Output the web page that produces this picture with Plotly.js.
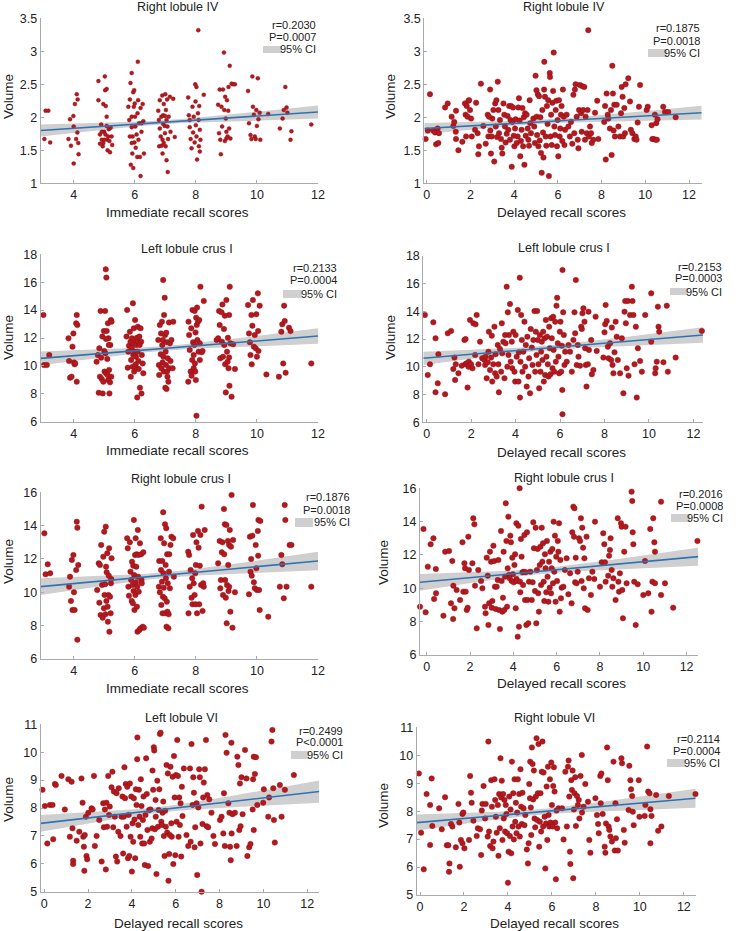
<!DOCTYPE html>
<html><head><meta charset="utf-8">
<script src="https://cdn.plot.ly/plotly-3.0.1.min.js"></script>
<style>html,body{margin:0;padding:0;background:#fff}#chart{width:736px;height:931px}</style>
</head><body><div id="chart"></div>
<script>
// ---------- DATA ----------
const titles = ["Right lobule IV","Right lobule IV","Left lobule crus I","Left lobule crus I","Right lobule crus I","Right lobule crus I","Left lobule VI","Right lobule VI"];
const xTitles = ["Immediate recall scores","Delayed recall scores","Immediate recall scores","Delayed recall scores","Immediate recall scores","Delayed recall scores","Delayed recall scores","Delayed recall scores"];
const rTexts = ["r=0.2030","r=0.1875","r=0.2133","r=0.2153","r=0.1876","r=0.2016","r=0.2499","r=0.2114"];
const pTexts = ["P=0.0007","P=0.0018","P=0.0004","P=0.0003","P=0.0018","P=0.0008","P<0.0001","P=0.0004"];
// fitted line values at left / right axis ends
const fitLeft  = [1.80, 1.83, 10.54, 10.61, 10.34, 10.36, 7.45, 7.59];
const fitRight = [2.08, 2.07, 12.14, 12.29, 11.88, 11.90, 8.59, 8.46];
// 95% CI half-width at left end, at narrowest point, at right end
const ciHalf = [[0.09,0.03,0.10],[0.085,0.03,0.105],[0.5,0.17,0.56],[0.48,0.17,0.56],[0.5,0.17,0.55],[0.5,0.17,0.54],[0.3,0.1,0.4],[0.29,0.1,0.34]];
const ciCenter = [7, 5.3, 7, 5.3, 7, 5.3, 5.3, 5.3];

const rightIV_imm = [[2.9,1.50],[3.04,1.67],[3.08,2.10],[3.17,2.10],[3.23,1.62],
[3.83,1.67],[3.88,1.97],[3.91,1.57],[3.99,2.02],[4.0,1.30],[4.04,2.20],[4.0,1.86],[4.08,1.67],[4.1,2.35],[4.13,2.27],[4.12,1.77],[4.15,1.61],[4.16,1.44],
[4.81,2.55],[4.81,2.26],[4.86,1.74],[4.86,1.60],[4.9,1.89],[4.92,1.66],[4.95,1.56],[4.97,2.20],[5.0,1.66],[5.0,1.78],[5.02,2.62],[5.03,2.41],[5.05,2.17],[5.08,2.01],[5.08,2.43],[5.08,1.87],[5.1,1.66],[5.11,1.50],[5.13,1.71],[5.15,1.82],[5.17,1.64],[5.19,1.47],[5.21,1.84],[5.24,1.71],[5.26,1.58],[5.04,1.74],[4.92,1.78],[4.97,1.61],
[5.79,2.16],[5.84,2.27],[5.86,2.52],[5.87,1.28],[5.9,2.67],[5.9,2.01],[5.9,1.85],[5.92,1.45],[5.93,1.71],[5.95,1.23],[5.95,2.38],[5.97,2.16],[5.98,2.41],[5.99,1.62],[6.0,2.21],[6.01,2.01],[6.02,1.86],[6.03,1.54],[6.06,1.74],[6.08,1.40],[6.09,2.06],[6.1,2.84],[6.11,2.26],[6.12,1.66],[6.14,1.91],[6.17,1.40],[6.19,1.11],[6.19,2.14],[6.22,1.78],[6.26,2.20],[6.28,1.94],[6.3,1.45],[5.84,1.71],[5.82,1.96],[5.9,1.61],[6.22,1.91],
[6.77,2.10],[6.79,1.96],[6.8,1.56],[6.82,2.26],[6.82,1.83],[6.85,1.71],[6.87,2.01],[6.88,1.57],[6.9,2.33],[6.91,1.66],[6.93,2.03],[6.93,1.90],[6.95,2.20],[6.95,1.61],[6.98,1.87],[6.99,2.02],[6.99,1.76],[7.0,2.35],[7.01,1.56],[7.02,2.11],[7.04,1.35],[7.04,1.96],[7.06,2.27],[7.07,1.86],[7.08,1.17],[7.09,1.67],[7.11,2.01],[7.15,2.31],[7.17,1.78],[7.26,2.28],[7.31,1.70],[6.91,1.45],
[7.75,2.30],[7.77,2.03],[7.8,1.85],[7.83,1.67],[7.86,1.53],[7.89,2.16],[7.91,1.77],[7.93,2.01],[7.96,1.62],[7.98,2.50],[7.99,2.24],[8.0,1.88],[8.02,2.46],[8.02,1.71],[8.04,1.36],[8.07,2.06],[8.08,3.32],[8.09,1.96],[8.1,1.56],[8.11,2.17],[8.13,1.81],[8.15,1.66],[8.26,2.34],[7.8,1.96],[8.13,1.48],
[8.73,2.19],[8.76,1.76],[8.78,2.42],[8.8,1.66],[8.82,1.44],[8.84,2.16],[8.86,1.86],[8.89,2.42],[8.92,2.98],[8.93,2.11],[8.95,1.64],[8.96,2.31],[8.98,1.98],[9.0,1.78],[9.02,2.26],[9.04,1.71],[9.06,2.10],[9.07,2.46],[9.09,1.83],[9.11,2.78],[9.13,1.68],[9.17,2.51],[9.22,2.50],[9.28,2.50],[9.0,1.68],
[9.71,2.40],[9.74,1.91],[9.79,1.73],[9.82,1.67],[9.85,2.62],[9.87,2.16],[9.9,2.04],[9.93,1.71],[9.96,1.67],[9.98,2.11],[10.0,1.87],[10.03,2.59],[10.05,1.97],[10.09,2.07],[10.11,1.66],[10.37,2.05],
[10.75,1.83],[10.84,1.98],[10.88,2.11],[10.93,2.46],[10.97,2.15],[11.0,2.07],[11.1,1.66],[11.13,1.79],
[11.78,1.89],[12.05,1.68]];

const rightIV_del = [[-0.23,1.50],[-0.15,1.30],[-0.05,1.67],[0.05,1.80],[0.15,2.35],[0.3,1.80],[0.38,1.77],[0.43,1.59],[0.5,1.83],[0.53,1.61],[0.56,1.76],[0.84,2.15],[0.96,2.21],[1.14,2.01],[1.22,1.87],[1.26,1.93],[1.33,1.78],[1.34,2.10],[1.34,1.67],[1.45,1.50],[1.63,1.63],[1.75,2.21],[1.78,2.04],[1.8,1.71],[1.83,2.17],[1.87,2.01],[1.91,2.25],[1.94,2.26],[1.98,2.11],[2.03,1.98],[2.06,1.71],[2.21,1.81],[2.26,2.22],[2.33,1.76],[2.36,1.44],[2.39,1.56],[2.48,2.51],[2.59,1.87],[2.7,1.60],[2.79,2.04],[2.82,1.71],[2.85,2.01],[2.9,2.42],[2.91,1.80],[2.94,1.45],[2.97,1.71],[3.0,1.98],[3.05,2.11],[3.09,1.33],[3.13,2.21],[3.16,1.86],[3.19,2.26],[3.22,1.70],[3.25,2.54],[3.28,2.11],[3.31,1.76],[3.35,1.96],[3.4,1.67],[3.43,1.54],[3.46,1.45],[3.51,2.21],[3.55,2.04],[3.58,1.86],[3.61,1.62],[3.66,1.75],[3.7,2.02],[3.73,1.81],[3.77,2.17],[3.81,1.66],[3.83,1.96],[3.86,2.17],[3.89,1.25],[3.92,1.93],[3.95,2.15],[3.98,1.72],[4.01,1.56],[4.04,1.83],[4.07,1.97],[4.12,1.61],[4.16,1.71],[4.19,2.15],[4.22,2.29],[4.25,1.95],[4.28,1.41],[4.31,1.64],[4.34,1.81],[4.38,2.14],[4.41,1.56],[4.44,2.0],[4.47,1.28],[4.5,2.06],[4.53,1.72],[4.57,2.04],[4.62,1.83],[4.65,1.66],[4.68,1.57],[4.71,2.26],[4.74,1.91],[4.77,1.76],[4.88,1.98],[4.92,1.86],[4.95,1.61],[4.98,2.63],[5.02,2.41],[5.03,2.01],[5.05,1.73],[5.08,2.35],[5.11,1.56],[5.14,2.32],[5.17,1.65],[5.2,2.0],[5.23,1.46],[5.26,1.16],[5.29,2.11],[5.32,1.77],[5.34,1.39],[5.37,2.42],[5.38,2.84],[5.41,2.31],[5.44,1.71],[5.47,1.57],[5.5,2.17],[5.53,1.90],[5.56,2.26],[5.59,1.11],[5.63,2.67],[5.64,2.61],[5.66,1.71],[5.69,2.04],[5.72,1.58],[5.75,2.22],[5.78,2.40],[5.81,2.98],[5.84,1.86],[5.87,1.73],[5.9,2.11],[5.93,2.25],[5.96,1.56],[5.99,1.96],[6.02,1.41],[6.05,2.26],[6.08,1.71],[6.11,1.83],[6.14,2.04],[6.17,2.17],[6.2,1.64],[6.23,2.42],[6.27,2.01],[6.3,1.58],[6.33,1.81],[6.4,2.04],[6.48,1.86],[6.55,1.71],[6.6,1.93],[6.66,1.60],[6.71,2.34],[6.75,1.76],[6.78,2.42],[6.81,2.50],[6.86,2.01],[6.91,1.66],[6.94,1.53],[6.97,2.11],[7.01,2.49],[7.06,2.06],[7.09,1.78],[7.12,2.47],[7.16,2.11],[7.21,2.46],[7.24,1.66],[7.27,2.01],[7.32,1.76],[7.36,2.11],[7.39,3.32],[7.42,1.71],[7.47,1.86],[7.52,1.76],[7.55,1.61],[7.62,1.66],[7.7,2.07],[7.8,2.25],[7.85,1.67],[8.12,1.93],[8.16,2.17],[8.19,1.36],[8.23,2.36],[8.28,2.04],[8.31,1.98],[8.38,1.83],[8.43,2.11],[8.46,1.43],[8.49,2.78],[8.52,2.36],[8.55,1.80],[8.58,2.19],[8.61,1.71],[8.69,2.19],[8.77,1.86],[8.84,1.71],[8.89,2.06],[8.92,2.46],[8.96,2.31],[8.99,1.71],[9.04,2.14],[9.07,1.76],[9.1,2.50],[9.22,2.59],[9.3,2.24],[9.34,1.81],[9.41,1.76],[9.5,1.67],[9.56,1.71],[9.6,1.66],[9.65,1.92],[9.71,2.16],[9.76,2.49],[10.06,2.11],[10.11,2.16],[10.29,1.88],[10.32,1.67],[10.38,1.67],[10.44,2.04],[10.47,1.66],[10.5,1.91],[10.53,1.66],[10.56,1.97],[10.82,2.16],[10.9,2.08],[11.05,2.08],[11.39,2.0],[12.6,1.80]];

const leftCrus_imm = [[2.88,9.47],[3.01,13.65],[3.03,10.06],[3.12,10.06],[3.2,10.78],
[3.83,11.98],[3.85,10.35],[3.88,9.15],[3.93,9.23],[3.96,11.38],[3.99,12.33],[4.01,10.25],[4.03,10.11],[4.05,10.18],[4.08,13.05],[4.1,13.65],[4.12,12.93],[4.1,8.87],
[4.75,10.3],[4.79,10.78],[4.82,8.08],[4.84,11.26],[4.86,9.23],[4.88,13.94],[4.9,10.59],[4.92,9.06],[4.94,12.1],[4.95,8.03],[4.97,8.87],[4.99,12.5],[5.0,11.07],[5.01,9.59],[5.03,13.94],[5.04,10.9],[5.05,16.92],[5.06,9.47],[5.07,16.33],[5.08,12.5],[5.1,10.49],[5.11,9.35],[5.12,13.05],[5.13,8.99],[5.14,11.98],[5.16,9.71],[5.17,8.03],[5.19,8.82],[5.2,11.5],[5.22,13.29],[5.24,13.17],[5.23,9.23],[5.15,11.5],[5.06,11.93],
[5.73,12.1],[5.75,14.01],[5.77,9.87],[5.79,11.02],[5.81,11.45],[5.84,12.45],[5.86,11.74],[5.87,9.23],[5.88,10.42],[5.9,11.31],[5.91,11.98],[5.93,9.94],[5.94,14.49],[5.95,10.78],[5.96,11.62],[5.97,12.69],[5.98,9.59],[5.99,11.02],[6.01,13.29],[6.02,11.86],[6.03,10.11],[6.04,10.66],[6.05,11.5],[6.06,9.83],[6.07,12.02],[6.08,7.74],[6.09,11.02],[6.1,12.81],[6.11,11.74],[6.12,10.35],[6.13,9.78],[6.15,12.1],[6.16,11.5],[6.17,8.44],[6.19,12.69],[6.21,11.74],[6.22,8.03],[6.26,10.18],[6.28,9.47],[6.23,10.78],
[6.77,11.86],[6.79,10.06],[6.8,9.35],[6.82,12.93],[6.85,10.83],[6.86,12.33],[6.87,9.83],[6.89,13.17],[6.9,11.5],[6.91,10.25],[6.92,11.86],[6.93,16.16],[6.94,10.66],[6.95,9.59],[6.96,13.65],[6.98,14.89],[6.99,12.21],[7.0,8.44],[7.01,11.02],[7.02,10.06],[7.03,12.38],[7.04,8.34],[7.05,11.69],[7.06,9.59],[7.07,9.23],[7.08,10.54],[7.1,8.87],[7.12,13.12],[7.13,9.83],[7.15,11.62],[7.17,10.35],[7.2,11.86],[7.26,13.17],[7.24,9.83],
[7.75,8.87],[7.76,13.17],[7.78,12.21],[7.8,11.14],[7.83,9.59],[7.85,12.69],[7.86,9.3],[7.88,10.42],[7.89,14.01],[7.91,11.69],[7.93,9.83],[7.93,10.78],[7.95,11.5],[7.96,13.94],[7.97,10.18],[7.98,9.59],[7.99,12.4],[8.0,8.99],[8.01,13.46],[8.02,6.43],[8.03,12.93],[8.04,14.18],[8.05,11.86],[8.07,13.17],[8.09,11.02],[8.11,13.29],[8.13,11.62],[8.15,15.68],[8.19,10.97],[8.22,11.07],[8.26,14.65],[8.13,10.42],
[8.68,11.86],[8.73,11.98],[8.76,13.94],[8.78,12.93],[8.8,10.54],[8.84,13.84],[8.85,11.74],[8.87,14.41],[8.89,10.66],[8.92,12.64],[8.93,11.5],[8.95,13.6],[8.96,10.11],[8.98,8.1],[9.0,14.72],[9.02,11.02],[9.04,10.3],[9.05,12.02],[9.07,9.83],[9.09,13.65],[9.1,8.58],[9.11,15.68],[9.13,11.62],[9.17,7.79],[9.22,11.55],[9.28,9.78],[9.09,10.61],
[9.71,14.37],[9.74,12.33],[9.77,11.69],[9.79,10.78],[9.82,13.65],[9.83,10.11],[9.85,12.88],[9.87,14.72],[9.9,11.38],[9.93,12.21],[9.96,11.26],[9.98,13.7],[10.0,10.66],[10.03,15.2],[10.05,11.07],[10.09,14.32],[10.04,12.5],[10.31,9.39],
[10.72,9.23],[10.8,12.45],[10.83,12.98],[10.86,10.18],[10.89,14.32],[10.91,13.22],[10.94,9.51],[11.05,12.74],[11.1,12.5],
[11.78,10.18],[12.05,9.83]];

const leftCrus_del = [[-0.2,12.17],[-0.2,9.36],[-0.08,13.73],[0.05,9.41],[0.15,10.18],[0.3,13.2],[0.4,12.05],[0.4,8.16],[0.5,8.81],[0.53,10.9],[0.83,8.02],[0.95,12.41],[1.1,12.58],[1.2,9.84],[1.25,10.66],[1.28,9.05],[1.31,10.18],[1.43,9.53],[1.58,10.08],[1.7,11.93],[1.73,10.18],[1.75,12.0],[1.8,10.25],[1.84,8.5],[1.88,10.01],[1.9,10.37],[1.95,13.37],[2.0,10.18],[2.06,9.89],[2.1,13.13],[2.18,10.85],[2.2,13.06],[2.25,13.73],[2.33,10.18],[2.4,11.81],[2.5,10.61],[2.6,10.49],[2.63,10.13],[2.65,10.73],[2.7,9.17],[2.75,10.32],[2.78,11.09],[2.8,12.53],[2.85,9.77],[2.9,10.66],[2.93,12.24],[2.95,8.93],[3.0,10.18],[3.05,12.89],[3.08,9.53],[3.1,10.9],[3.15,9.29],[3.2,11.57],[3.23,10.18],[3.25,8.16],[3.3,11.28],[3.35,9.65],[3.38,13.13],[3.4,10.97],[3.45,11.81],[3.5,9.17],[3.53,12.29],[3.55,11.69],[3.6,15.77],[3.63,10.01],[3.65,13.92],[3.68,10.85],[3.7,12.29],[3.75,14.52],[3.78,10.37],[3.83,11.81],[3.85,9.89],[3.9,12.53],[3.95,9.65],[3.98,8.93],[4.0,12.29],[4.05,10.73],[4.1,14.09],[4.13,8.93],[4.15,11.04],[4.19,16.42],[4.2,7.78],[4.22,10.37],[4.25,13.73],[4.28,11.93],[4.31,9.65],[4.35,11.09],[4.4,13.25],[4.43,10.01],[4.46,11.57],[4.5,8.57],[4.53,12.17],[4.58,9.29],[4.61,10.61],[4.65,8.09],[4.68,12.72],[4.73,11.38],[4.76,10.13],[4.8,11.93],[4.85,14.01],[4.88,9.65],[4.91,12.53],[4.94,10.85],[4.97,14.01],[5.0,11.93],[5.03,10.18],[5.06,8.45],[5.09,12.29],[5.12,9.65],[5.15,11.09],[5.18,11.81],[5.21,10.49],[5.24,12.53],[5.27,8.93],[5.3,12.05],[5.33,9.41],[5.36,13.37],[5.39,10.73],[5.42,12.17],[5.45,10.18],[5.48,9.29],[5.51,12.89],[5.54,11.33],[5.57,9.46],[5.6,13.49],[5.63,12.05],[5.66,9.89],[5.69,13.61],[5.71,11.21],[5.74,9.65],[5.78,13.25],[5.81,10.37],[5.84,14.4],[5.87,14.97],[5.9,11.69],[5.93,10.73],[5.96,9.53],[5.99,12.53],[6.02,13.25],[6.05,9.65],[6.08,11.52],[6.1,8.33],[6.11,16.97],[6.11,6.58],[6.14,13.92],[6.17,12.29],[6.2,10.13],[6.23,11.09],[6.3,10.37],[6.38,11.57],[6.45,11.09],[6.53,9.65],[6.6,11.93],[6.65,13.92],[6.68,12.41],[6.71,16.25],[6.75,10.13],[6.8,11.57],[6.83,10.73],[6.9,10.08],[6.95,12.89],[6.98,12.72],[7.01,13.85],[7.05,14.21],[7.1,13.25],[7.13,11.33],[7.16,10.13],[7.19,8.57],[7.25,10.18],[7.28,13.97],[7.3,11.21],[7.4,11.93],[7.43,9.46],[7.5,9.77],[7.6,13.61],[7.65,11.14],[7.95,10.66],[8.0,12.48],[8.03,13.06],[8.05,14.45],[8.1,13.3],[8.15,11.45],[8.18,10.61],[8.25,11.69],[8.3,10.49],[8.33,12.82],[8.36,10.13],[8.4,9.53],[8.45,11.04],[8.5,13.25],[8.55,12.17],[8.6,10.49],[8.7,9.53],[8.78,12.05],[8.85,8.09],[8.9,13.97],[8.93,14.73],[8.96,13.13],[9.0,9.89],[9.05,14.73],[9.08,9.36],[9.15,13.73],[9.23,15.77],[9.26,14.73],[9.3,13.73],[9.35,10.18],[9.41,12.89],[9.45,7.78],[9.5,11.33],[9.6,10.42],[9.68,9.65],[9.83,13.73],[10.1,15.29],[10.1,11.81],[10.28,9.53],[10.3,9.89],[10.35,10.37],[10.4,14.33],[10.43,12.89],[10.46,12.53],[10.65,10.32],[10.8,14.4],[10.85,9.65],[11.2,10.66],[12.38,12.58]];

const rightCrus_imm = [[2.9,10.0],[3.04,13.54],[3.08,11.08],[3.15,11.68],[3.23,11.14],
[3.85,10.34],[3.88,10.94],[3.91,9.48],[3.94,11.94],[3.96,8.94],[3.99,12.24],[4.01,10.0],[4.03,8.94],[4.08,11.34],[4.1,14.24],[4.12,13.88],[4.12,7.16],[4.15,11.64],
[4.77,10.14],[4.82,11.74],[4.84,9.38],[4.86,11.64],[4.88,8.64],[4.9,12.84],[4.93,10.44],[4.95,8.48],[4.97,12.14],[4.99,9.04],[5.0,13.64],[5.01,9.84],[5.03,10.48],[5.04,8.68],[5.05,13.94],[5.06,11.54],[5.07,9.48],[5.08,11.2],[5.1,12.34],[5.11,9.14],[5.12,8.24],[5.13,16.04],[5.14,9.84],[5.15,11.0],[5.16,12.64],[5.17,7.64],[5.19,9.74],[5.21,8.74],[5.22,10.54],[5.24,12.04],[5.23,10.8],
[5.75,13.24],[5.77,12.64],[5.79,10.34],[5.81,9.8],[5.84,13.0],[5.86,11.24],[5.88,10.74],[5.9,9.48],[5.91,11.84],[5.93,10.44],[5.94,9.34],[5.95,11.6],[5.96,10.08],[5.97,14.34],[5.98,11.04],[5.99,8.94],[6.01,12.24],[6.02,9.84],[6.03,13.24],[6.04,10.6],[6.05,11.54],[6.06,12.28],[6.07,9.14],[6.08,10.34],[6.09,7.64],[6.1,13.74],[6.11,10.94],[6.12,12.24],[6.13,10.04],[6.15,7.74],[6.17,12.94],[6.19,7.84],[6.21,12.28],[6.22,10.74],[6.26,7.94],[6.28,12.4],[6.3,7.88],[6.23,10.54],
[6.79,10.34],[6.8,11.88],[6.82,10.0],[6.85,13.24],[6.86,11.34],[6.87,9.24],[6.89,10.64],[6.9,11.88],[6.91,8.74],[6.92,9.74],[6.93,14.8],[6.94,11.14],[6.95,10.28],[6.96,12.94],[6.98,9.64],[6.99,14.08],[7.0,8.74],[7.01,11.64],[7.02,10.84],[7.03,13.84],[7.04,7.94],[7.05,9.44],[7.06,12.28],[7.07,8.84],[7.08,10.54],[7.1,7.84],[7.11,8.68],[7.12,11.24],[7.13,12.28],[7.15,10.24],[7.17,12.84],[7.2,13.34],[7.26,13.24],[7.28,10.94],
[7.75,12.44],[7.76,8.74],[7.78,12.24],[7.8,10.34],[7.83,11.34],[7.86,9.68],[7.88,10.84],[7.89,9.28],[7.91,13.44],[7.93,10.54],[7.96,9.84],[7.98,11.14],[7.99,9.28],[8.0,11.64],[8.02,13.0],[8.04,8.74],[8.07,13.68],[8.09,12.68],[8.11,9.28],[8.13,11.6],[8.15,13.44],[8.17,10.44],[8.19,15.14],[8.22,8.88],[8.24,10.54],[8.29,13.74],[8.26,10.34],
[8.73,11.74],[8.78,13.08],[8.8,10.24],[8.82,10.74],[8.85,12.4],[8.87,13.0],[8.89,9.84],[8.92,15.0],[8.93,12.28],[8.95,14.08],[8.96,10.74],[8.98,9.68],[9.0,14.04],[9.01,8.14],[9.02,10.44],[9.05,13.08],[9.06,11.64],[9.07,10.08],[9.09,12.84],[9.11,13.74],[9.13,8.84],[9.15,12.74],[9.17,15.84],[9.2,7.88],[9.22,13.14],[9.28,10.0],[9.09,10.34],
[9.74,9.88],[9.77,13.34],[9.79,11.24],[9.81,12.0],[9.83,11.0],[9.85,13.4],[9.87,15.24],[9.9,10.6],[9.93,10.24],[9.96,12.84],[9.98,11.44],[10.0,10.14],[10.03,13.68],[10.04,12.2],[10.05,14.34],[10.07,10.14],[10.09,8.94],[10.11,14.28],[10.37,8.54],
[10.75,10.34],[10.8,12.24],[10.83,11.68],[10.88,9.64],[10.91,15.24],[10.93,14.34],[10.97,10.34],[11.07,12.84],[11.13,12.84],
[11.78,10.34],[12.05,10.44]];

const rightCrus_del = [[-0.35,12.2],[-0.31,8.9],[-0.15,13.56],[-0.05,8.56],[0.05,11.3],[0.18,12.64],[0.31,13.0],[0.34,9.36],[0.42,11.16],[0.43,9.7],[0.77,8.36],[0.85,12.2],[1.03,12.24],[1.12,9.1],[1.18,11.64],[1.22,8.16],[1.23,10.16],[1.28,8.8],[1.38,9.9],[1.54,9.3],[1.65,12.76],[1.69,9.8],[1.74,11.5],[1.77,11.2],[1.8,9.8],[1.85,8.7],[1.89,8.84],[1.92,13.1],[1.95,11.1],[2.11,11.5],[2.15,14.2],[2.2,13.84],[2.23,10.16],[2.31,7.6],[2.38,11.1],[2.51,10.44],[2.57,10.0],[2.69,8.9],[2.72,8.5],[2.77,11.84],[2.82,10.76],[2.85,7.8],[2.88,9.1],[2.92,12.2],[2.97,11.6],[3.0,8.84],[3.03,9.24],[3.08,12.56],[3.12,11.64],[3.15,10.1],[3.18,8.76],[3.23,10.1],[3.28,10.5],[3.31,11.7],[3.34,8.7],[3.38,7.56],[3.43,13.44],[3.46,10.44],[3.49,8.6],[3.52,9.44],[3.55,12.2],[3.58,8.7],[3.62,10.7],[3.65,15.1],[3.68,12.84],[3.71,8.9],[3.74,11.2],[3.77,14.3],[3.8,10.8],[3.83,10.6],[3.86,13.16],[3.89,12.76],[3.92,10.44],[3.95,11.84],[3.98,10.84],[4.02,10.36],[4.05,11.4],[4.08,12.04],[4.11,8.8],[4.14,13.9],[4.15,10.56],[4.17,10.44],[4.2,7.1],[4.23,13.76],[4.26,7.7],[4.29,16.0],[4.31,10.4],[4.32,9.76],[4.35,12.96],[4.38,11.9],[4.42,10.96],[4.45,10.2],[4.48,11.0],[4.51,13.2],[4.54,9.3],[4.57,10.96],[4.6,7.8],[4.63,13.36],[4.66,9.3],[4.69,7.9],[4.72,10.4],[4.78,11.0],[4.85,9.3],[4.89,10.36],[4.92,13.96],[4.95,12.4],[5.0,9.84],[5.03,13.64],[5.06,7.9],[5.09,11.1],[5.12,12.36],[5.15,9.7],[5.18,8.6],[5.22,11.4],[5.25,12.5],[5.28,10.2],[5.31,13.64],[5.34,11.6],[5.37,12.7],[5.4,10.4],[5.43,9.24],[5.46,12.04],[5.49,11.2],[5.52,9.76],[5.55,12.84],[5.58,10.7],[5.62,9.2],[5.65,11.6],[5.68,10.04],[5.71,12.2],[5.74,9.7],[5.77,11.2],[5.8,12.36],[5.83,10.3],[5.86,14.0],[5.89,11.0],[5.92,13.16],[5.95,9.2],[5.98,11.9],[6.02,10.44],[6.05,12.84],[6.08,12.2],[6.11,13.9],[6.14,8.6],[6.17,11.7],[6.2,9.4],[6.23,10.04],[6.31,10.1],[6.38,11.1],[6.46,11.8],[6.54,9.64],[6.62,10.9],[6.69,9.1],[6.72,13.36],[6.77,14.9],[6.8,13.1],[6.82,14.8],[6.85,10.36],[6.88,11.84],[6.92,10.3],[6.97,11.0],[7.03,13.0],[7.08,12.84],[7.12,14.2],[7.15,10.44],[7.18,13.64],[7.22,12.44],[7.25,10.0],[7.28,11.8],[7.31,8.8],[7.38,13.1],[7.43,8.7],[7.49,10.6],[7.58,9.6],[7.65,11.0],[7.74,10.56],[7.77,14.0],[8.0,10.1],[8.08,11.56],[8.15,13.3],[8.2,12.64],[8.23,11.56],[8.26,10.4],[8.38,10.76],[8.42,11.96],[8.46,12.3],[8.49,13.0],[8.54,11.1],[8.57,10.1],[8.62,10.6],[8.72,9.3],[8.82,14.2],[8.85,10.4],[8.88,9.8],[8.92,10.9],[8.97,13.9],[9.0,13.7],[9.03,9.9],[9.06,8.2],[9.12,12.2],[9.18,13.7],[9.23,10.3],[9.46,15.8],[9.49,15.24],[9.51,13.36],[9.54,12.64],[9.58,10.4],[9.65,7.8],[9.74,10.24],[10.0,9.6],[10.08,11.64],[10.23,9.7],[10.32,13.56],[10.38,8.6],[10.42,10.4],[10.46,14.2],[10.51,12.76],[10.54,12.2],[10.54,10.3],[10.82,15.2],[10.82,9.6],[11.0,10.3],[11.38,8.84],[12.5,12.84]];

const leftVI_del = [[-0.23,7.35],[-0.2,7.03],[-0.08,8.65],[0.03,8.07],[0.14,6.73],[0.26,8.11],[0.38,8.11],[0.41,6.88],[0.49,8.86],[0.53,8.82],[0.79,9.15],[0.94,7.95],[1.1,9.03],[1.17,6.97],[1.25,8.94],[1.29,7.27],[1.32,6.11],[1.32,5.99],[1.48,6.83],[1.6,7.15],[1.7,9.06],[1.75,8.19],[1.78,6.97],[1.81,6.61],[1.83,5.75],[1.85,7.03],[1.9,7.69],[1.93,6.28],[1.96,6.16],[2.01,7.83],[2.16,7.99],[2.21,7.95],[2.27,9.15],[2.31,6.64],[2.39,7.0],[2.51,7.57],[2.62,6.08],[2.69,8.17],[2.72,7.31],[2.77,7.95],[2.81,5.8],[2.84,8.19],[2.87,7.33],[2.92,9.15],[2.96,7.75],[2.99,8.05],[3.07,8.74],[3.11,9.3],[3.15,7.31],[3.18,8.59],[3.22,7.69],[3.27,6.26],[3.3,8.53],[3.33,6.08],[3.38,7.15],[3.4,8.71],[3.48,7.0],[3.53,7.69],[3.57,8.41],[3.6,6.37],[3.63,7.69],[3.66,9.46],[3.69,8.35],[3.72,8.86],[3.76,7.33],[3.79,8.76],[3.82,6.2],[3.85,7.75],[3.88,6.28],[3.91,8.88],[3.94,6.97],[3.97,8.41],[4.0,5.72],[4.03,7.45],[4.06,6.79],[4.09,8.35],[4.12,7.59],[4.15,6.2],[4.18,8.67],[4.21,8.11],[4.24,9.75],[4.25,10.53],[4.29,7.39],[4.32,8.65],[4.35,7.69],[4.38,6.97],[4.41,9.03],[4.44,8.07],[4.47,6.73],[4.5,7.57],[4.53,8.41],[4.56,6.73],[4.59,5.96],[4.62,7.75],[4.65,9.78],[4.68,8.5],[4.71,7.21],[4.74,5.92],[4.79,7.93],[4.82,6.79],[4.85,7.95],[4.9,6.91],[4.93,7.27],[4.94,9.34],[4.97,8.65],[5.0,10.18],[5.02,10.06],[5.05,7.24],[5.08,8.29],[5.09,7.69],[5.12,5.63],[5.16,8.98],[5.19,7.33],[5.22,7.93],[5.25,8.67],[5.28,10.65],[5.31,10.7],[5.34,7.51],[5.37,7.39],[5.4,7.83],[5.43,8.23],[5.46,7.0],[5.49,6.28],[5.52,7.9],[5.55,7.33],[5.58,9.54],[5.61,7.12],[5.64,9.24],[5.67,5.39],[5.7,6.35],[5.73,7.03],[5.76,9.48],[5.8,7.45],[5.82,6.97],[5.86,9.12],[5.89,5.99],[5.92,9.86],[5.95,8.38],[5.98,6.31],[6.01,9.18],[6.04,7.51],[6.07,10.44],[6.1,9.15],[6.13,6.97],[6.16,8.38],[6.19,7.39],[6.22,8.17],[6.25,6.26],[6.28,8.76],[6.31,7.71],[6.37,9.42],[6.49,7.03],[6.57,6.64],[6.65,9.42],[6.68,6.79],[6.72,10.29],[6.77,8.11],[6.8,9.1],[6.83,8.55],[6.86,6.59],[6.89,7.31],[6.95,8.17],[6.98,5.6],[7.03,8.02],[7.07,9.39],[7.1,9.1],[7.13,6.73],[7.18,5.0],[7.22,7.43],[7.25,8.38],[7.28,8.91],[7.33,9.39],[7.38,10.44],[7.41,7.35],[7.44,8.47],[7.48,7.31],[7.53,8.31],[7.63,7.83],[7.72,7.0],[7.79,6.71],[8.02,7.57],[8.09,7.69],[8.17,7.09],[8.2,8.53],[8.24,6.64],[8.27,10.62],[8.32,9.98],[8.4,8.17],[8.45,7.83],[8.48,6.61],[8.51,6.13],[8.54,10.34],[8.55,7.09],[8.59,7.78],[8.7,7.83],[8.78,6.64],[8.81,9.84],[8.86,9.54],[8.9,7.21],[8.93,8.88],[8.96,7.35],[9.0,9.1],[9.05,7.78],[9.16,10.08],[9.23,9.06],[9.27,6.28],[9.35,6.59],[9.41,6.71],[9.51,7.95],[9.53,9.03],[9.56,9.84],[9.56,7.21],[9.61,9.22],[9.66,9.82],[9.72,8.11],[9.99,8.19],[10.02,8.67],[10.22,7.69],[10.26,8.38],[10.37,10.38],[10.41,10.8],[10.45,8.71],[10.48,7.57],[10.52,6.76],[10.75,8.82],[10.83,7.69],[10.98,8.65],[11.39,9.18],[12.58,9.36]];

const rightVI_del = [[-0.23,7.5],[-0.2,7.9],[-0.05,9.35],[0.05,7.23],[0.17,5.92],[0.3,8.61],[0.46,8.22],[0.46,6.79],[0.53,9.17],[0.56,7.47],[0.87,8.1],[0.99,7.35],[1.14,8.5],[1.22,6.78],[1.29,6.78],[1.32,5.83],[1.34,6.13],[1.41,7.54],[1.47,7.45],[1.63,6.71],[1.75,8.26],[1.79,7.59],[1.81,6.01],[1.86,6.97],[1.93,6.85],[1.93,7.9],[1.97,7.95],[2.02,6.67],[2.23,6.97],[2.28,9.26],[2.32,8.66],[2.35,8.3],[2.43,7.66],[2.58,7.11],[2.63,7.39],[2.73,7.35],[2.78,6.43],[2.81,8.02],[2.84,8.26],[2.89,8.9],[2.96,7.74],[2.99,8.26],[3.08,7.09],[3.11,10.49],[3.14,7.27],[3.19,6.75],[3.24,9.11],[3.27,8.16],[3.3,6.67],[3.34,6.91],[3.39,9.14],[3.42,8.4],[3.45,7.8],[3.49,7.23],[3.54,8.22],[3.57,6.4],[3.6,8.61],[3.63,7.39],[3.66,9.89],[3.69,8.49],[3.72,9.09],[3.75,6.97],[3.78,8.61],[3.81,7.74],[3.84,8.4],[3.87,7.27],[3.9,8.22],[3.93,7.9],[3.96,7.21],[4.0,5.44],[4.03,6.55],[4.06,8.52],[4.09,7.11],[4.12,8.06],[4.15,6.49],[4.18,9.77],[4.21,7.45],[4.24,8.64],[4.27,6.99],[4.3,9.14],[4.33,7.62],[4.36,8.3],[4.39,7.21],[4.42,7.95],[4.45,9.14],[4.48,7.45],[4.51,8.61],[4.54,7.09],[4.57,9.5],[4.6,8.16],[4.63,7.54],[4.66,8.66],[4.71,8.1],[4.75,7.5],[4.79,7.86],[4.86,6.63],[4.91,6.13],[4.94,6.85],[4.97,8.97],[5.0,8.46],[5.01,9.77],[5.04,8.13],[5.06,7.15],[5.09,10.28],[5.12,9.69],[5.15,8.42],[5.18,9.45],[5.21,7.74],[5.24,7.42],[5.27,8.52],[5.3,10.61],[5.33,7.68],[5.36,8.64],[5.39,10.4],[5.42,6.73],[5.45,7.62],[5.48,8.64],[5.51,7.27],[5.54,9.41],[5.57,10.49],[5.6,7.45],[5.62,9.38],[5.67,7.8],[5.7,5.95],[5.73,7.56],[5.76,8.88],[5.79,6.97],[5.82,9.59],[5.85,7.86],[5.88,7.45],[5.91,9.14],[5.94,7.59],[5.97,9.74],[6.0,8.22],[6.03,7.45],[6.06,8.9],[6.09,9.57],[6.12,8.7],[6.15,7.59],[6.18,5.56],[6.21,8.02],[6.24,7.39],[6.3,8.1],[6.46,8.1],[6.53,6.99],[6.61,9.41],[6.68,7.45],[6.73,9.59],[6.76,9.81],[6.79,8.52],[6.82,6.55],[6.84,6.11],[6.88,9.11],[6.91,8.76],[6.94,9.45],[6.97,5.6],[7.0,8.06],[7.03,8.64],[7.06,9.21],[7.09,7.47],[7.14,8.54],[7.18,8.22],[7.22,8.4],[7.25,7.74],[7.3,9.26],[7.36,10.01],[7.37,7.95],[7.44,8.16],[7.52,8.97],[7.64,8.34],[7.7,6.97],[7.75,6.51],[7.98,8.46],[8.05,7.86],[8.1,7.54],[8.13,7.21],[8.22,8.28],[8.2,9.26],[8.25,9.35],[8.31,7.9],[8.4,6.73],[8.43,6.51],[8.46,7.56],[8.51,10.28],[8.54,9.11],[8.58,7.45],[8.61,7.33],[8.66,7.09],[8.73,6.91],[8.8,9.77],[8.86,6.59],[8.89,8.28],[8.91,7.03],[8.96,7.71],[9.0,6.59],[9.16,9.89],[9.19,9.71],[9.27,7.33],[9.31,6.87],[9.49,8.04],[9.52,9.62],[9.57,9.11],[9.6,8.78],[9.65,8.54],[9.68,7.98],[9.72,7.5],[9.95,9.11],[9.98,7.8],[10.22,7.83],[10.25,8.22],[10.33,10.31],[10.38,8.7],[10.44,8.64],[10.48,8.07],[10.53,7.83],[10.48,6.85],[10.74,8.58],[10.83,7.3],[10.98,7.45],[11.32,8.54],[12.53,8.61]];

const datasets = [rightIV_imm, rightIV_del, leftCrus_imm, leftCrus_del, rightCrus_imm, rightCrus_del, leftVI_del, rightVI_del];

// ---------- LAYOUT GEOMETRY (pixels) ----------
const W = 736, H = 931;
const fx = p => p / W, fy = p => 1 - p / H;
const geo = [
  {xd:[40.7,318],   yd:[18.3,183.3],  xr:[2.92,12.0],   yr:[1,3.5], dy:0.5, xt:[4,6,8,10,12], ms:4,
   ttl:[178,7], xl:[177,213], yl:[8,97],   leg:{rx:318,rY:25,pY:37,rect:[263,282,46,53],ciY:49.5}},
  {xd:[424.3,701.7],yd:[18.3,183.3],  xr:[-0.11,12.58], yr:[1,3.5], dy:0.5, xt:[0,2,4,6,8,10,12], ms:5.5,
   ttl:[564,7], xl:[561,213], yl:[390,97], leg:{rx:701.7,rY:28,pY:41,rect:[648,667,49,57],ciY:53}},
  {xd:[40.7,318],   yd:[254.3,421.7], xr:[2.92,12.0],   yr:[6,18], dy:2, xt:[4,6,8,10,12], ms:5.5,
   ttl:[187,249], xl:[177,451], yl:[8,338], leg:{rx:339,rY:268,pY:280,rect:[283,302,290,298],ciY:294}},
  {xd:[423.3,703],  yd:[255.7,422.3], xr:[-0.15,12.43], yr:[6,18], dy:2, xt:[0,2,4,6,8,10,12], ms:5.5,
   ttl:[564,248], xl:[561,452], yl:[390,338], leg:{rx:724,rY:267,pY:278,rect:[670,688,288,295],ciY:291.5}},
  {xd:[40.7,318],   yd:[492.3,659],   xr:[2.92,12.0],   yr:[6,16], dy:2, xt:[4,6,8,10,12], ms:5.5,
   ttl:[181,479], xl:[177,688], yl:[8,562], leg:{rx:351.7,rY:497,pY:510,rect:[295,313,518,527],ciY:522}},
  {xd:[420,698.3],  yd:[488.3,655],   xr:[-0.31,12.54], yr:[6,16], dy:2, xt:[0,2,4,6,8,10,12], ms:5.5,
   ttl:[564,478], xl:[561,683], yl:[383,562], leg:{rx:725,rY:494,pY:506,rect:[671,690,514,522],ciY:518}},
  {xd:[40.7,319.3], yd:[724.3,891.7], xr:[-0.16,12.55], yr:[5,11], dy:1, xt:[0,2,4,6,8,10,12], ms:5.5,
   ttl:[181,718], xl:[178,923], yl:[8,800], leg:{rx:345,rY:731,pY:742,rect:[291,309,751,759],ciY:755}},
  {xd:[416.7,695.7],yd:[727.3,895],   xr:[-0.15,12.54], yr:[5,11], dy:1, xt:[0,2,4,6,8,10,12], ms:5.5,
   ttl:[554,718], xl:[554,923], yl:[383,805], leg:{rx:722,rY:739,pY:751,rect:[667,685,759,767],ciY:763}}
];

const FONT = "Liberation Sans, Arial, Helvetica, sans-serif";
const traces = [], annotations = [], shapes = [];
const layout = {
  width: W, height: H, margin:{l:0,r:0,t:0,b:0}, showlegend:false,
  paper_bgcolor:'#fff', plot_bgcolor:'rgba(0,0,0,0)',
  font:{family:FONT, color:'#222', size:12.5}
};

function halfWidth(i, x) {
  const g = geo[i], [hl, h0, hr] = ciHalf[i], xc = ciCenter[i];
  const left = x < xc;
  const xe = left ? g.xr[0] : g.xr[1], he = left ? hl : hr;
  const k = Math.sqrt(Math.max(he*he - h0*h0, 0)) / Math.abs(xe - xc);
  return Math.sqrt(h0*h0 + k*k*(x-xc)*(x-xc));
}

geo.forEach((g, i) => {
  const n = i + 1;
  const xa = n === 1 ? 'x' : 'x' + n, ya = n === 1 ? 'y' : 'y' + n;
  const xk = n === 1 ? 'xaxis' : 'xaxis' + n, yk = n === 1 ? 'yaxis' : 'yaxis' + n;
  const axBase = {showgrid:false, zeroline:false, showline:true, linecolor:'#aaaaaa', linewidth:1,
                  ticks:'inside', ticklen:3, tickcolor:'#aaaaaa', tickfont:{size:12.5, color:'#222'}, fixedrange:true};
  layout[xk] = Object.assign({}, axBase, {domain:[fx(g.xd[0]), fx(g.xd[1])], range:g.xr, tickvals:g.xt, anchor:ya});
  layout[yk] = Object.assign({}, axBase, {domain:[fy(g.yd[1]), fy(g.yd[0])], range:g.yr, dtick:g.dy, tick0:0, anchor:xa});

  // CI band + fit line
  const N = 60, xs = [], up = [], lo = [];
  for (let k = 0; k <= N; k++) {
    const x = g.xr[0] + (g.xr[1]-g.xr[0]) * k / N;
    const y = fitLeft[i] + (fitRight[i]-fitLeft[i]) * (x - g.xr[0]) / (g.xr[1]-g.xr[0]);
    const h = halfWidth(i, x);
    xs.push(x); up.push(y + h); lo.push(y - h);
  }
  traces.push({type:'scatter', mode:'lines', x: xs.concat(xs.slice().reverse()), y: up.concat(lo.slice().reverse()),
    fill:'toself', fillcolor:'#cfcfcf', line:{width:0}, hoverinfo:'skip', xaxis:xa, yaxis:ya});
  // points
  const d = datasets[i];
  traces.push({type:'scatter', mode:'markers', x:d.map(p=>p[0]), y:d.map(p=>p[1]), cliponaxis:false,
    marker:{color:'#b3191e', size:g.ms, line:{width:0.4, color:'#8a1014'}}, xaxis:xa, yaxis:ya});
  traces.push({type:'scatter', mode:'lines', x:[g.xr[0], g.xr[1]], y:[fitLeft[i], fitRight[i]],
    line:{color:'#2f73b3', width:1.6}, xaxis:xa, yaxis:ya});

  // texts
  const A = (t, x, y, o) => annotations.push(Object.assign({text:t, x:fx(x), y:fy(y), xref:'paper', yref:'paper',
      showarrow:false, xanchor:'center', yanchor:'middle', font:{family:FONT, size:12.5, color:'#222'}}, o||{}));
  A(titles[i], g.ttl[0], g.ttl[1]);
  A(xTitles[i], g.xl[0], g.xl[1], {font:{family:FONT, size:13.5, color:'#222'}});
  A('Volume', g.yl[0], g.yl[1], {textangle:-90, font:{family:FONT, size:13.5, color:'#222'}});
  const L = g.leg;
  A(rTexts[i], L.rx, L.rY, {xanchor:'right', font:{family:FONT, size:11, color:'#222'}});
  A(pTexts[i], L.rx, L.pY, {xanchor:'right', font:{family:FONT, size:11, color:'#222'}});
  A('95% CI', L.rx, L.ciY, {xanchor:'right', font:{family:FONT, size:11, color:'#222'}});
  shapes.push({type:'rect', xref:'paper', yref:'paper', x0:fx(L.rect[0]), x1:fx(L.rect[1]), y0:fy(L.rect[3]), y1:fy(L.rect[2]),
    fillcolor:'#cfcfcf', line:{width:0}});
});
layout.annotations = annotations;
layout.shapes = shapes;
Plotly.newPlot('chart', traces, layout, {displayModeBar:false, staticPlot:true});
</script></body></html>
